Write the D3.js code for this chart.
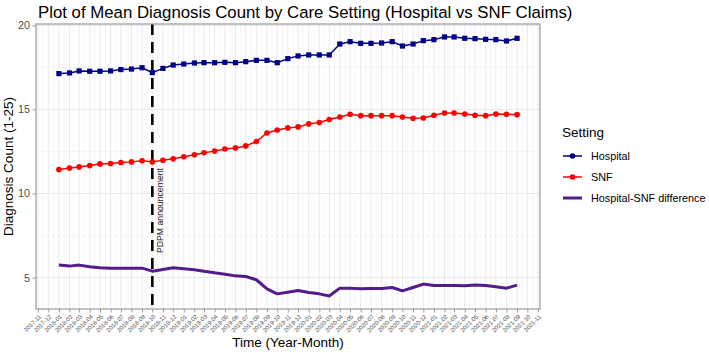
<!DOCTYPE html>
<html>
<head>
<meta charset="utf-8">
<script src="https://cdn.jsdelivr.net/npm/d3@7"></script>
<style>
    body { margin: 0; background: #fff; }
    svg { display: block; font-family: "Liberation Sans", Arial, Helvetica, sans-serif; }
</style>
</head>
<body>
<div id="chart"></div>
<script>
// Months with claims data
const months = [
    "2018-01", "2018-02", "2018-03", "2018-04", "2018-05", "2018-06", "2018-07", "2018-08", "2018-09", "2018-10", "2018-11", "2018-12",
    "2019-01", "2019-02", "2019-03", "2019-04", "2019-05", "2019-06", "2019-07", "2019-08", "2019-09", "2019-10", "2019-11", "2019-12",
    "2020-01", "2020-02", "2020-03", "2020-04", "2020-05", "2020-06", "2020-07", "2020-08", "2020-09", "2020-10", "2020-11", "2020-12",
    "2021-01", "2021-02", "2021-03", "2021-04", "2021-05", "2021-06", "2021-07", "2021-08", "2021-09"
];

// Mean diagnosis counts
const hospital = [
    17.13, 17.17, 17.29, 17.27, 17.27, 17.29, 17.37, 17.40, 17.48, 17.19,
    17.44, 17.64, 17.70, 17.76, 17.78, 17.78, 17.80, 17.78, 17.84, 17.92,
    17.92, 17.78, 18.02, 18.18, 18.24, 18.24, 18.24, 18.89, 19.03, 18.93,
    18.93, 18.95, 19.03, 18.77, 18.89, 19.09, 19.15, 19.31, 19.31, 19.23,
    19.21, 19.17, 19.15, 19.07, 19.23
];
const snf = [
    11.42, 11.52, 11.58, 11.66, 11.76, 11.78, 11.84, 11.88, 11.94, 11.88,
    11.98, 12.06, 12.18, 12.30, 12.42, 12.52, 12.65, 12.71, 12.83, 13.09,
    13.60, 13.78, 13.90, 13.96, 14.14, 14.22, 14.40, 14.55, 14.71, 14.63,
    14.63, 14.63, 14.63, 14.55, 14.47, 14.49, 14.65, 14.79, 14.79, 14.73,
    14.65, 14.63, 14.73, 14.71, 14.69
];
const difference = [
    5.74, 5.68, 5.74, 5.64, 5.58, 5.56, 5.56, 5.56, 5.56, 5.38,
    5.48, 5.58, 5.52, 5.46, 5.38, 5.28, 5.20, 5.10, 5.06, 4.87,
    4.33, 4.03, 4.13, 4.23, 4.11, 4.03, 3.90, 4.37, 4.37, 4.33,
    4.35, 4.35, 4.41, 4.21, 4.41, 4.61, 4.53, 4.53, 4.53, 4.51,
    4.55, 4.53, 4.45, 4.37, 4.55
];

const seriesNames = ["Hospital", "SNF", "Hospital-SNF difference"];
const yTicks = [5, 10, 15, 20];
const pdpmMonth = "2018-10";
const pdpmLabel = "PDPM announcement";

const width = 709, height = 353;
const panel = { left: 36, right: 540, top: 24, bottom: 309 };

const parseMonth = d3.timeParse("%Y-%m");
const dates = months.map(parseMonth);

const series = [
    { name: seriesNames[0], values: hospital, color: "#00008B", lineWidth: 1.5, shape: "square" },
    { name: seriesNames[1], values: snf, color: "#FF0000", lineWidth: 1.5, shape: "circle" },
    { name: seriesNames[2], values: difference, color: "#551A8B", lineWidth: 3, shape: null }
];

// ggplot style 5% expansion on both scales
function expand(extent, frac) {
    const pad = (extent[1] - extent[0]) * frac;
    return [extent[0] - pad, extent[1] + pad];
}

const xExt = expand(d3.extent(dates).map(d => +d), 0.05);
const x = d3.scaleTime()
    .domain(xExt.map(t => new Date(t)))
    .range([panel.left, panel.right]);

const allValues = hospital.concat(snf, difference);
const y = d3.scaleLinear()
    .domain(expand(d3.extent(allValues), 0.05))
    .range([panel.bottom, panel.top]);

const svg = d3.select("#chart").append("svg")
    .attr("width", width)
    .attr("height", height);

// Grid lines: monthly majors, mid-month minors
const monthTicks = d3.timeMonth.range(d3.timeMonth.ceil(x.domain()[0]), x.domain()[1]);
const minorX = [];
for (let i = 0; i < monthTicks.length - 1; i++) {
    minorX.push(new Date((+monthTicks[i] + +monthTicks[i + 1]) / 2));
}
const minorY = [7.5, 12.5, 17.5];

const grid = svg.append("g").attr("class", "grid");
grid.selectAll("line.minor-x")
    .data(minorX)
    .join("line")
    .attr("x1", d => x(d)).attr("x2", d => x(d))
    .attr("y1", panel.top).attr("y2", panel.bottom)
    .attr("stroke", "#efefef").attr("stroke-width", 0.6);
grid.selectAll("line.minor-y")
    .data(minorY)
    .join("line")
    .attr("x1", panel.left).attr("x2", panel.right)
    .attr("y1", d => y(d)).attr("y2", d => y(d))
    .attr("stroke", "#efefef").attr("stroke-width", 0.6);
grid.selectAll("line.major-x")
    .data(monthTicks)
    .join("line")
    .attr("x1", d => x(d)).attr("x2", d => x(d))
    .attr("y1", panel.top).attr("y2", panel.bottom)
    .attr("stroke", "#e3e3e3").attr("stroke-width", 0.8);
grid.selectAll("line.major-y")
    .data(yTicks)
    .join("line")
    .attr("x1", panel.left).attr("x2", panel.right)
    .attr("y1", d => y(d)).attr("y2", d => y(d))
    .attr("stroke", "#e3e3e3").attr("stroke-width", 0.8);

// PDPM announcement marker
const pdpmX = x(parseMonth(pdpmMonth));
svg.append("line")
    .attr("x1", pdpmX).attr("x2", pdpmX)
    .attr("y1", panel.top).attr("y2", panel.bottom)
    .attr("stroke", "#000")
    .attr("stroke-width", 2.6)
    .attr("stroke-dasharray", "11,7");

svg.append("text")
    .attr("transform", `translate(${pdpmX + 10.5}, 253) rotate(-90)`)
    .attr("font-size", 8.7)
    .attr("fill", "#222")
    .text(pdpmLabel);

// Series lines and points
const line = d3.line()
    .x((d, i) => x(dates[i]))
    .y(d => y(d));

series.forEach(s => {
    svg.append("path")
        .datum(s.values)
        .attr("fill", "none")
        .attr("stroke", s.color)
        .attr("stroke-width", s.lineWidth)
        .attr("stroke-linejoin", "round")
        .attr("d", line);

    if (s.shape === "square") {
        svg.append("g").selectAll("rect")
            .data(s.values)
            .join("rect")
            .attr("x", (d, i) => x(dates[i]) - 2.6)
            .attr("y", d => y(d) - 2.6)
            .attr("width", 5.2).attr("height", 5.2)
            .attr("fill", s.color);
    } else if (s.shape === "circle") {
        svg.append("g").selectAll("circle")
            .data(s.values)
            .join("circle")
            .attr("cx", (d, i) => x(dates[i]))
            .attr("cy", d => y(d))
            .attr("r", 2.8)
            .attr("fill", s.color);
    }
});

// Panel border
svg.append("rect")
    .attr("x", panel.left).attr("y", panel.top)
    .attr("width", panel.right - panel.left)
    .attr("height", panel.bottom - panel.top)
    .attr("fill", "none")
    .attr("stroke", "#9a9a9a")
    .attr("stroke-width", 1.2);

// Axes
const xAxis = svg.append("g")
    .attr("transform", `translate(0, ${panel.bottom})`)
    .call(d3.axisBottom(x)
        .tickValues(monthTicks)
        .tickFormat(d3.timeFormat("%Y-%m"))
        .tickSize(3.5)
        .tickPadding(0));
xAxis.select(".domain").remove();
xAxis.selectAll(".tick line").attr("stroke", "#9a9a9a");
xAxis.selectAll(".tick text")
    .attr("font-size", 6)
    .attr("font-family", "Liberation Sans, Arial, sans-serif")
    .attr("fill", "#4d4d4d")
    .attr("text-anchor", "end")
    .attr("y", 0)
    .attr("dy", "0.72em")
    .attr("transform", "translate(0, 5) rotate(-45)");

const yAxis = svg.append("g")
    .attr("transform", `translate(${panel.left}, 0)`)
    .call(d3.axisLeft(y)
        .tickValues(yTicks)
        .tickSize(3.5)
        .tickPadding(2.5));
yAxis.select(".domain").remove();
yAxis.selectAll(".tick line").attr("stroke", "#9a9a9a");
yAxis.selectAll(".tick text")
    .attr("font-size", 10.8)
    .attr("font-family", "Liberation Sans, Arial, sans-serif")
    .attr("fill", "#4d4d4d");

// Titles
svg.append("text")
    .attr("x", 38).attr("y", 18)
    .attr("font-size", 16.8)
    .attr("fill", "#000")
    .text("Plot of Mean Diagnosis Count by Care Setting (Hospital vs SNF Claims)");

svg.append("text")
    .attr("x", (panel.left + panel.right) / 2)
    .attr("y", 347)
    .attr("text-anchor", "middle")
    .attr("font-size", 13.5)
    .text("Time (Year-Month)");

svg.append("text")
    .attr("transform", `translate(13, ${(panel.top + panel.bottom) / 2}) rotate(-90)`)
    .attr("text-anchor", "middle")
    .attr("font-size", 13.5)
    .text("Diagnosis Count (1-25)");

// Legend
const legend = svg.append("g").attr("transform", "translate(562, 0)");
legend.append("text")
    .attr("x", 0).attr("y", 137)
    .attr("font-size", 13.5)
    .text("Setting");

const keys = legend.selectAll("g.key")
    .data(series)
    .join("g")
    .attr("class", "key")
    .attr("transform", (d, i) => `translate(0, ${156 + i * 21})`);

keys.append("line")
    .attr("x1", 1).attr("x2", 20)
    .attr("stroke", d => d.color)
    .attr("stroke-width", d => d.lineWidth);

keys.filter(d => d.shape)
    .append("circle")
    .attr("cx", 10.5)
    .attr("r", 2.8)
    .attr("fill", d => d.color);

keys.append("text")
    .attr("x", 29)
    .attr("dy", "0.35em")
    .attr("font-size", 10.8)
    .text(d => d.name);
</script>
</body>
</html>
